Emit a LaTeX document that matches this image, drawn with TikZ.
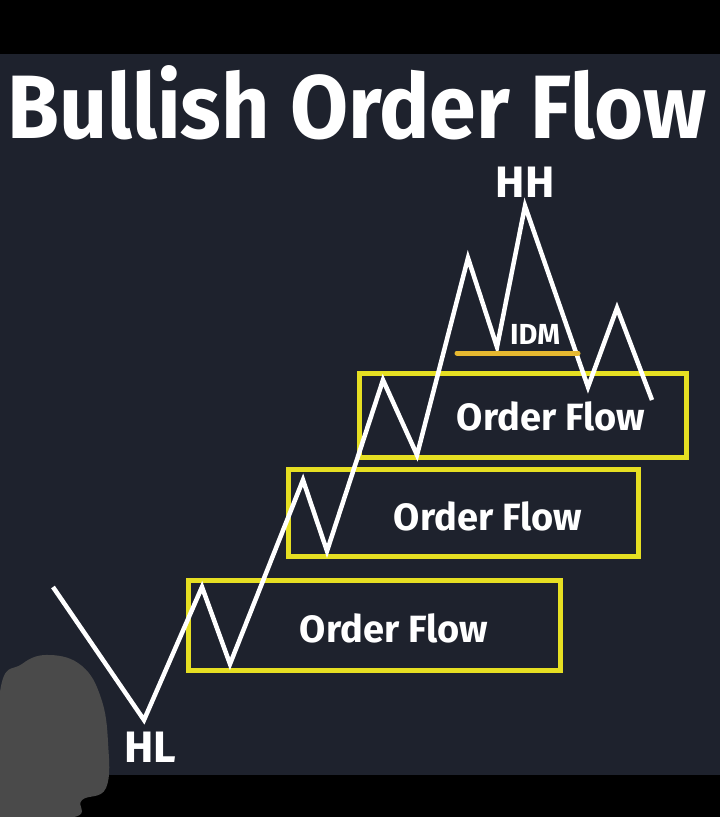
\documentclass[tikz,border=0pt]{standalone}
\usepackage{fontspec}
\setmainfont{Fira Sans}
\usetikzlibrary{positioning}
\definecolor{panel}{HTML}{1E222D}
\definecolor{flowbox}{HTML}{E6DF22}
\definecolor{idmline}{HTML}{E6B830}
\definecolor{smudge}{HTML}{4A4A4A}

\begin{document}
\begin{tikzpicture}[x=1pt, y=-1pt,
  zone/.style={rectangle, draw=flowbox, line width=5pt, inner sep=0pt},
  swing/.style={draw=white, line width=4.5pt},
  tag/.style={font=\fontsize{38}{38}\selectfont\bfseries, text=white, inner sep=0pt},
  point/.style={font=\fontsize{44}{44}\selectfont\bfseries, text=white, inner sep=0pt}
]

% frame
\fill[black] (0,0) rectangle (720,817);
\fill[panel] (0,54) rectangle (720,775);
\useasboundingbox (0,0) rectangle (720,817);

\node[font=\fontsize{90}{90}\selectfont\bfseries, text=white, inner sep=0pt, anchor=base,
  xscale=0.935] (title) at (357,138) {Bullish Order Flow};

% order flow zones
\node[zone, minimum width=372pt, minimum height=90pt] (zone1) at (374,625) {};
\node[zone, minimum width=350pt, minimum height=87pt] (zone2) at (463,513) {};
\node[zone, minimum width=327pt, minimum height=84pt] (zone3) at (523,415) {};

\node[tag] (flow1) at ([xshift=20pt, yshift=-3pt]zone1.center) {Order Flow};
\node[tag] (flow2) at ([xshift=25pt, yshift=-3pt]zone2.center) {Order Flow};
\node[tag] (flow3) at ([xshift=28pt, yshift=-1pt]zone3.center) {Order Flow};

% swing points
\coordinate (start) at (53,587);
\coordinate (hl) at (144,720);
\coordinate (p1) at (202,587);
\coordinate (t1) at (230,664);
\coordinate (p2) at (303,480);
\coordinate (t2) at (327,551);
\coordinate (p3) at (383,380);
\coordinate (t3) at (417,455);
\coordinate (p4) at (468,258);
\coordinate (idm) at (497,347);
\coordinate (hh) at (525,206);
\coordinate (t4) at (588,387);
\coordinate (p5) at (617,308);
\coordinate (end) at (652,400);

\draw[swing] (start) -- (hl) -- (p1) -- (t1) -- (p2) -- (t2) -- (p3) -- (t3)
  -- (p4) -- (idm) -- (hh) -- (t4) -- (p5) -- (end);

% inducement
\coordinate (idmL) at (457,353);
\coordinate (idmR) at (578,353);
\draw[idmline, line width=5pt, line cap=round] (idmL) -- (idmR);
\node[font=\fontsize{29}{29}\selectfont\bfseries, text=white, inner sep=0pt,
  above right=2pt and 13pt of idm] (idmtext) {IDM};

\node[point, above=8pt of hh] (hhtext) {HH};
\node[point, below=12pt of hl, xshift=6pt] (hltext) {HL};

% smudge
\fill[smudge] plot[smooth cycle, tension=0.7] coordinates {
  (0,692) (22,664) (50,655) (82,666) (101,698) (108,742) (106,788) (82,800) (74,817) (0,817)};

\end{tikzpicture}
\end{document}
